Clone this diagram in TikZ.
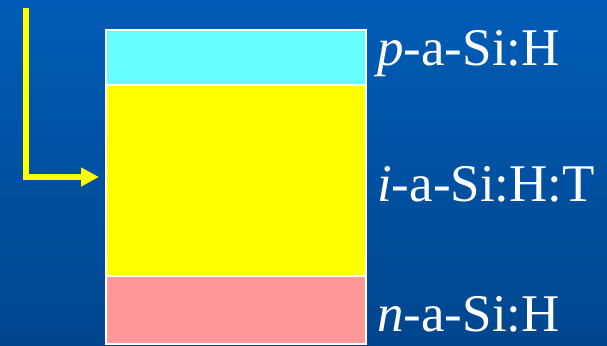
\documentclass[tikz,border=0pt]{standalone}
\usepackage{fontspec}
\setmainfont{Liberation Serif}
\usetikzlibrary{arrows.meta}
\definecolor{bgtop}{RGB}{0,92,182}
\definecolor{bgbot}{RGB}{0,70,142}
\definecolor{layercyan}{RGB}{102,255,255}
\definecolor{layeryellow}{RGB}{255,255,0}
\definecolor{layerpink}{RGB}{255,153,153}
\tikzset{
  layer/.style={draw=white, line width=2pt, inner sep=0pt, outer sep=0pt, anchor=north west},
  lab/.style={text=white, anchor=base west, inner sep=0pt, font=\fontsize{53}{60}\selectfont},
  feed/.style={draw=layeryellow, line width=6pt, -{Triangle[length=18pt,width=18pt]}}
}
\begin{document}
\begin{tikzpicture}[x=1pt,y=-1pt]
\shade[top color=bgtop, bottom color=bgbot] (0,0) rectangle (607,345);
\useasboundingbox (0,0) rectangle (607,345);
\node[layer, fill=layercyan, minimum width=260pt, minimum height=55pt] (p) at (106,30) {};
\node[layer, fill=layeryellow, minimum width=260pt, minimum height=191pt] (i) at (106,85) {};
\node[layer, fill=layerpink, minimum width=260pt, minimum height=68pt] (n) at (106,276) {};
\node[lab] (pl) at (377,65) {\textit{p}-a-Si:H};
\node[lab] (il) at (377,201) {\textit{i}-a-Si:H:T};
\node[lab] (nl) at (377,331) {\textit{n}-a-Si:H};
\coordinate (start) at (26,8);
\coordinate (corner) at (26,177);
\coordinate (tip) at (99,177);
\draw[feed] (start) -- (corner) -- (tip);
\end{tikzpicture}
\end{document}
